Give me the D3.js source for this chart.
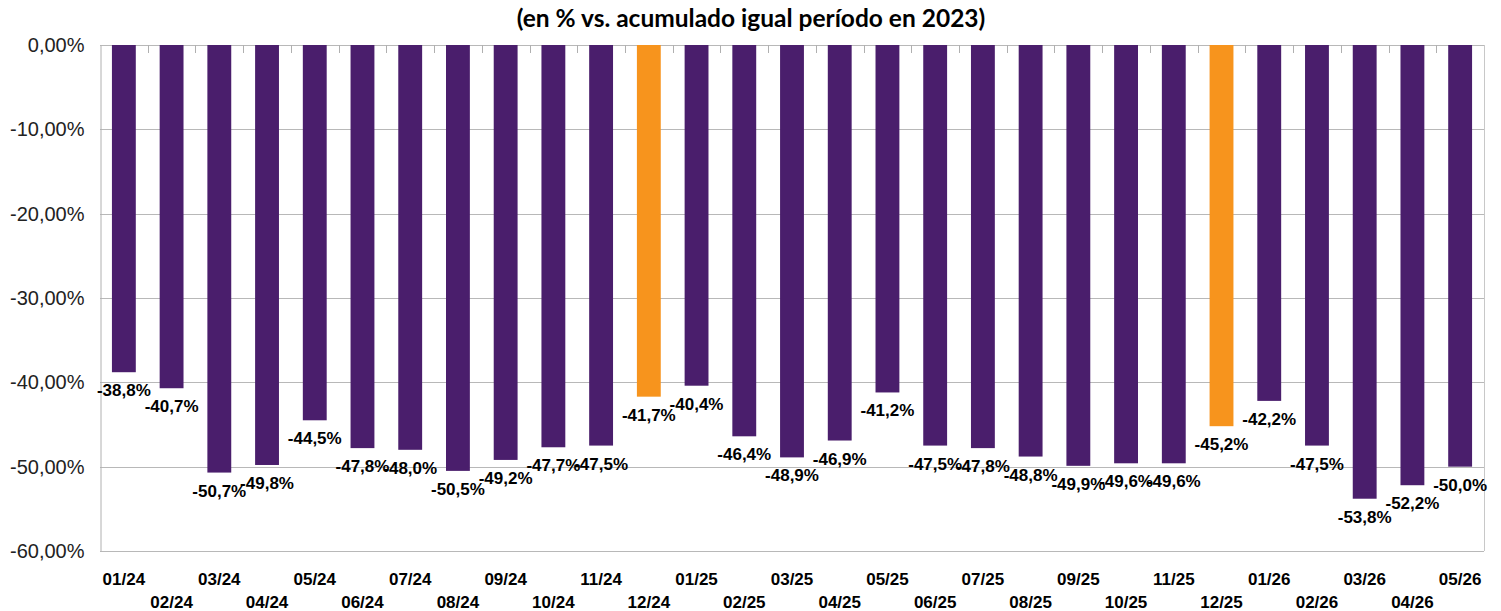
<!DOCTYPE html>
<html>
<head>
<meta charset="utf-8">
<script src="https://cdn.jsdelivr.net/npm/d3@7/dist/d3.min.js"></script>
<style>
  html, body { margin: 0; padding: 0; background: #fff; }
  svg { display: block; }
</style>
</head>
<body>
<svg id="chart" width="1501" height="611"></svg>
<script>
const title = "(en % vs. acumulado igual período en 2023)";
const categories = ["01/24","02/24","03/24","04/24","05/24","06/24","07/24","08/24","09/24","10/24","11/24","12/24",
  "01/25","02/25","03/25","04/25","05/25","06/25","07/25","08/25","09/25","10/25","11/25","12/25",
  "01/26","02/26","03/26","04/26","05/26"];
const values = [-38.8,-40.7,-50.7,-49.8,-44.5,-47.8,-48.0,-50.5,-49.2,-47.7,-47.5,-41.7,
  -40.4,-46.4,-48.9,-46.9,-41.2,-47.5,-47.8,-48.8,-49.9,-49.6,-49.6,-45.2,
  -42.2,-47.5,-53.8,-52.2,-50.0];
const highlighted = ["12/24","12/25"];
const yTicks = [0,-10,-20,-30,-40,-50,-60];

const svg = d3.select("#chart");
const pLeft = 100, pRight = 1484, pTop = 45, pBottom = 551;

const x = d3.scaleBand().domain(categories).range([pLeft, pRight]).paddingInner(0.5).paddingOuter(0.25);
const y = d3.scaleLinear().domain([-60, 0]).range([pBottom, pTop]);

const fmtAxis = v => v.toFixed(2).replace(".", ",") + "%";
const fmtLabel = v => v.toFixed(1).replace(".", ",") + "%";

// title
svg.append("text").attr("x", 751).attr("y", 27).attr("text-anchor", "middle")
  .attr("font-family", "Lato, 'Open Sans', sans-serif").attr("font-weight", "bold")
  .attr("font-size", 24.5).attr("fill", "#000").text(title);

// gridlines
svg.append("g").selectAll("line").data(yTicks).join("line")
  .attr("x1", pLeft).attr("x2", pRight)
  .attr("y1", d => Math.round(y(d)) + 0.5).attr("y2", d => Math.round(y(d)) + 0.5)
  .attr("stroke", "#b8b8b8").attr("stroke-width", 1);

// y axis
const yAxis = svg.append("g").attr("transform", `translate(${pLeft + 0.5},0)`)
  .call(d3.axisLeft(y).tickValues(yTicks).tickFormat(fmtAxis).tickSize(0).tickPadding(16));
yAxis.select(".domain").attr("stroke", "#b0b0b0");
yAxis.selectAll("text").attr("font-family", "'Liberation Sans', Arial, sans-serif")
  .attr("font-size", 20).attr("fill", "#222");

// right border
svg.append("line").attr("x1", pRight + 0.5).attr("x2", pRight + 0.5).attr("y1", pTop).attr("y2", pBottom)
  .attr("stroke", "#c8c8c8");

// top ticks between categories
const step = x.step();
svg.append("g").selectAll("line").data(categories.slice(1)).join("line")
  .attr("x1", c => Math.round(x(c) + x.bandwidth() / 2 - step / 2) + 0.5)
  .attr("x2", c => Math.round(x(c) + x.bandwidth() / 2 - step / 2) + 0.5)
  .attr("y1", pTop).attr("y2", pTop + 8)
  .attr("stroke", "#b0b0b0");

// bars
svg.append("g").selectAll("rect").data(categories).join("rect")
  .attr("x", c => x(c)).attr("width", x.bandwidth())
  .attr("y", y(0)).attr("height", (c, i) => y(values[i]) - y(0))
  .attr("fill", c => highlighted.includes(c) ? "#f7941d" : "#4a1e6c");

// data labels
svg.append("g").selectAll("text").data(categories).join("text")
  .attr("x", c => x(c) + x.bandwidth() / 2)
  .attr("y", (c, i) => y(values[i]) + 24)
  .attr("text-anchor", "middle")
  .attr("font-family", "'Liberation Sans', Arial, sans-serif").attr("font-weight", "bold")
  .attr("font-size", 17).attr("fill", "#000")
  .text((c, i) => fmtLabel(values[i]));

// x labels (staggered)
svg.append("g").selectAll("text").data(categories).join("text")
  .attr("x", c => x(c) + x.bandwidth() / 2)
  .attr("y", (c, i) => i % 2 === 0 ? 585 : 608)
  .attr("text-anchor", "middle")
  .attr("font-family", "'Liberation Sans', Arial, sans-serif").attr("font-weight", "bold")
  .attr("font-size", 17).attr("fill", "#000")
  .text(c => c);
</script>
</body>
</html>
